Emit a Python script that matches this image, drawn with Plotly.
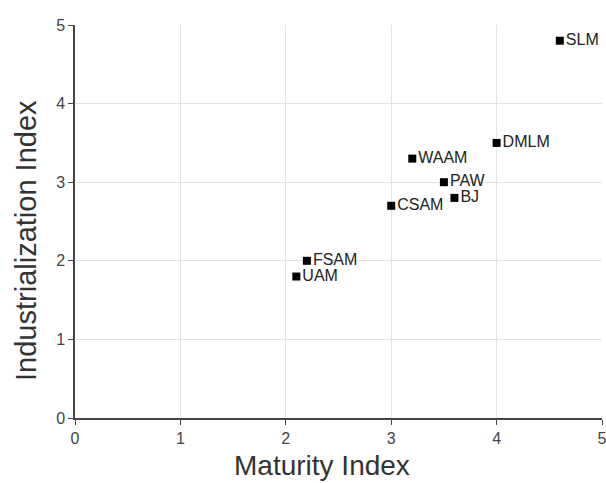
import plotly.graph_objects as go

labels = ["SLM", "DMLM", "WAAM", "PAW", "BJ", "CSAM", "FSAM", "UAM"]
maturity = [4.6, 4.0, 3.2, 3.5, 3.6, 3.0, 2.2, 2.1]
industrialization = [4.8, 3.5, 3.3, 3.0, 2.8, 2.7, 2.0, 1.8]
ticks = [0, 1, 2, 3, 4, 5]

fig = go.Figure(go.Scatter(
    x=maturity, y=industrialization, text=labels,
    mode="markers+text", textposition="middle right",
    marker=dict(symbol="square", size=8, color="black"),
    textfont=dict(family="Liberation Sans, Arial", size=16, color="#222"),
    cliponaxis=False, showlegend=False,
))

axis_common = dict(
    range=[0, 5], tickvals=ticks, showgrid=True, gridcolor="#e4e4e4", gridwidth=1,
    showline=True, linecolor="#444", linewidth=1.5, ticks="outside", ticklen=5,
    tickcolor="#444", tickfont=dict(family="Liberation Sans, Arial", size=16, color="#444"),
    zeroline=False, automargin=False,
)

fig.update_layout(
    width=606, height=483,
    margin=dict(l=75, r=4, t=25, b=65),
    paper_bgcolor="white", plot_bgcolor="white",
    xaxis=dict(**axis_common, ticklabeloverflow="allow"),
    yaxis=dict(**axis_common),
    annotations=[
        dict(text="Maturity Index", xref="paper", yref="paper", x=0.468, y=-0.122,
             xanchor="center", yanchor="middle", showarrow=False,
             font=dict(family="Liberation Sans, Arial", size=28, color="#333")),
        dict(text="Industrialization Index", xref="paper", yref="paper", x=-0.093, y=0.453,
             xanchor="center", yanchor="middle", showarrow=False, textangle=-90,
             font=dict(family="Liberation Sans, Arial", size=29, color="#333")),
    ],
)

fig.write_html("out.html")
